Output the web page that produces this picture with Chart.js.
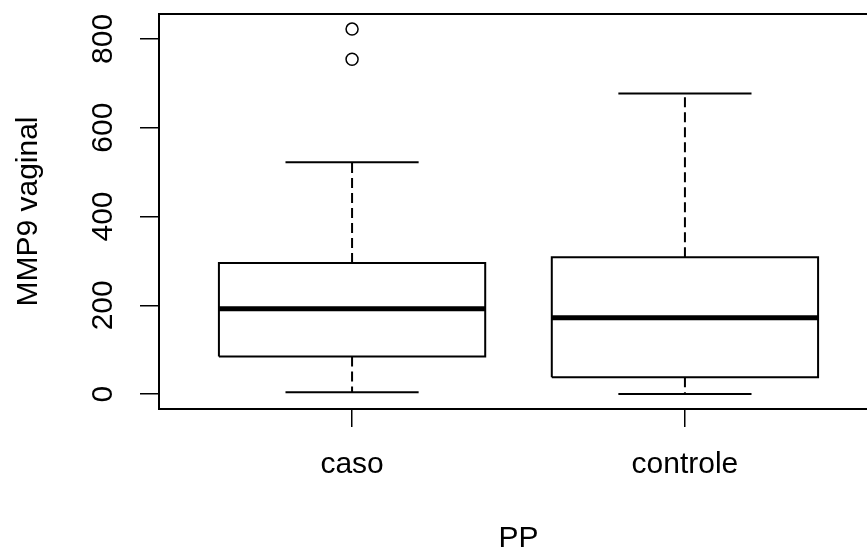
<!DOCTYPE html>
<html>
<head>
<meta charset="utf-8">
<script src="https://cdn.jsdelivr.net/npm/chart.js@4"></script>
<style>
  body { margin: 0; overflow: hidden; background: #fff; }
  #wrap { width: 900px; height: 550px; }
</style>
</head>
<body>
<div id="wrap"><canvas id="box_plot"></canvas></div>
<script>
// values
let categories = ['caso', 'controle'];
let whiskerLow = [4, 0];
let q1 = [85, 38];
let median = [192, 172];
let q3 = [295, 308];
let whiskerHigh = [522, 677];
let outliers = [[754, 822], []];
let yTicks = [0, 200, 400, 600, 800];

let boxHalf = 0.4;
let capHalf = 0.2;

function lineSet(points, width, dash, order){
	return {
		'type': 'scatter',
		'data': points,
		'showLine': true,
		'borderColor': '#000',
		'borderWidth': width,
		'borderDash': dash,
		'pointRadius': 0,
		'fill': false,
		'order': order
	};
}

let datasets = [];
for(let i = 0; i < categories.length; i++){
	let x = i + 1;
	datasets.push(lineSet([{x: x - boxHalf, y: median[i]}, {x: x + boxHalf, y: median[i]}], 5, [], 0));
	datasets.push(lineSet([
		{x: x - boxHalf, y: q1[i]}, {x: x + boxHalf, y: q1[i]},
		{x: x + boxHalf, y: q3[i]}, {x: x - boxHalf, y: q3[i]},
		{x: x - boxHalf, y: q1[i]}
	], 2, [], 1));
	datasets.push(lineSet([{x: x, y: q3[i]}, {x: x, y: whiskerHigh[i]}], 2, [10, 5], 1));
	datasets.push(lineSet([{x: x, y: q1[i]}, {x: x, y: whiskerLow[i]}], 2, [10, 5], 1));
	datasets.push(lineSet([{x: x - capHalf, y: whiskerHigh[i]}, {x: x + capHalf, y: whiskerHigh[i]}], 2, [], 1));
	datasets.push(lineSet([{x: x - capHalf, y: whiskerLow[i]}, {x: x + capHalf, y: whiskerLow[i]}], 2, [], 1));
	if(outliers[i].length){
		datasets.push({
			'type': 'scatter',
			'data': outliers[i].map(function(v){ return {x: x, y: v}; }),
			'pointStyle': 'circle',
			'pointRadius': 6,
			'pointBorderWidth': 1.5,
			'pointBorderColor': '#000',
			'pointBackgroundColor': 'rgba(0,0,0,0)',
			'showLine': false,
			'order': 0
		});
	}
}

let framePlugin = {
	id: 'frame',
	afterDraw: function(chart){
		let a = chart.chartArea;
		let ctx = chart.ctx;
		ctx.save();
		ctx.strokeStyle = '#000';
		ctx.lineWidth = 2;
		ctx.strokeRect(a.left, a.top, a.right - a.left, a.bottom - a.top);
		ctx.restore();
	}
};

Chart.defaults.font.family = '"Liberation Sans", Arial, sans-serif';
Chart.defaults.color = '#000';

let ctx = document.getElementById('box_plot').getContext('2d');
let myBoxChart = new Chart(ctx, {
	'type': 'scatter',
	'data': {'datasets': datasets},
	'plugins': [framePlugin],
	'options': {
		'responsive': true,
		'maintainAspectRatio': false,
		'animation': false,
		'layout': {'padding': {'top': 14, 'left': 0, 'right': 22, 'bottom': 0}},
		'plugins': {'legend': {'display': false}, 'tooltip': {'enabled': false}},
		'scales': {
			'x': {
				'type': 'linear',
				'min': 0.42,
				'max': 2.58,
				'border': {'display': false},
				'grid': {'drawOnChartArea': false, 'tickLength': 18, 'color': '#000', 'lineWidth': 1.5},
				'afterBuildTicks': function(scale){
					scale.ticks = categories.map(function(c, i){ return {value: i + 1}; });
				},
				'afterFit': function(scale){
					scale.height = 141;
					scale.paddingLeft = 0;
					scale.paddingRight = 0;
				},
				'ticks': {
					'font': {'size': 30},
					'padding': 20,
					'maxRotation': 0,
					'callback': function(v){ return categories[v - 1]; }
				},
				'title': {'display': true, 'text': 'PP', 'font': {'size': 30}, 'padding': {'top': 0, 'bottom': -7}}
			},
			'y': {
				'min': -33.5,
				'max': 856,
				'border': {'display': false},
				'grid': {'drawOnChartArea': false, 'tickLength': 19, 'color': '#000', 'lineWidth': 1.5},
				'afterBuildTicks': function(scale){
					scale.ticks = yTicks.map(function(v){ return {value: v}; });
				},
				'afterFit': function(scale){
					scale.width = 159;
					scale.paddingTop = 0;
					scale.paddingBottom = 0;
				},
				'ticks': {
					'font': {'size': 30},
					'minRotation': 90,
					'maxRotation': 90,
					'crossAlign': 'center',
					'padding': 11.6
				},
				'title': {'display': true, 'text': 'MMP9 vaginal', 'font': {'size': 30}, 'padding': {'top': 10.5, 'bottom': 0}}
			}
		}
	}
});
</script>
</body>
</html>
